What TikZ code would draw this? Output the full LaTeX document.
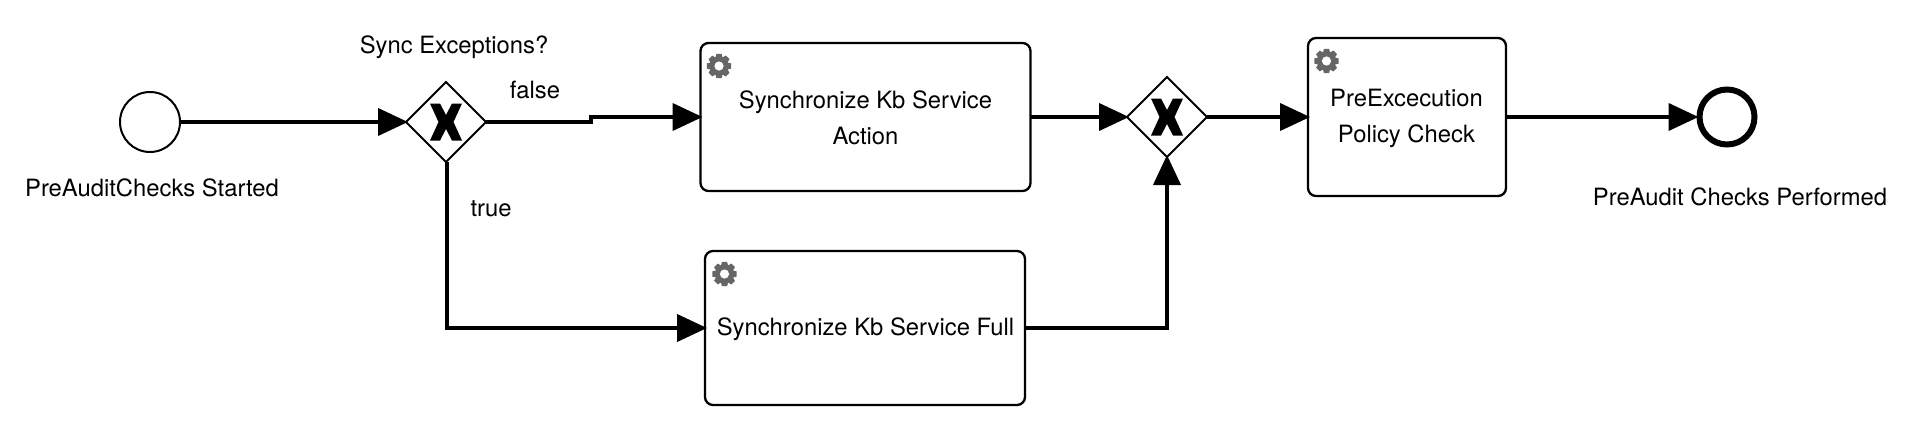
\documentclass[tikz,border=0pt]{standalone}
\usepackage{fontspec}
\setmainfont{TeX Gyre Heros}
\usetikzlibrary{arrows.meta,shapes.geometric}
\definecolor{geargrey}{HTML}{666666}
\tikzset{
  x=1pt,y=-1pt,
  lbl/.style={font=\fontsize{23.8}{36}\selectfont,align=center,inner sep=0pt,text=black},
  taskbox/.style={draw=black,line width=2.3pt,rounded corners=8pt,fill=white,inner sep=0pt,outer sep=0pt,align=center},
  gate/.style={diamond,draw=black,line width=2pt,fill=white,minimum width=80pt,minimum height=80pt,inner sep=0pt,outer sep=0pt,aspect=1},
  startev/.style={circle,draw=black,line width=2pt,minimum size=60pt,inner sep=0pt,outer sep=0pt},
  endev/.style={circle,draw=black,line width=6pt,minimum size=55pt,inner sep=0pt,outer sep=3pt},
  flow/.style={draw=black,line width=4pt,-{Triangle[length=30pt,width=27pt]},line join=miter,shorten >=-2pt},
  gearicon/.pic={
    \fill[geargrey] (0,0) circle[radius=9.5pt];
    \foreach \a in {0,45,...,315}{
      \fill[geargrey,rotate=\a] (-2.6,-12.2) -- (2.6,-12.2) -- (3.6,-8) -- (-3.6,-8) -- cycle;
    }
    \fill[white] (0,0) circle[radius=4.6pt];
  },
  xmark/.pic={
    \fill[black] (-16,-18.5) -- (-6,-18.5) -- (0,-7) -- (6,-18.5) -- (16,-18.5) -- (7.5,0) -- (16,18.5) -- (6,18.5) -- (0,7) -- (-6,18.5) -- (-16,18.5) -- (-7.5,0) -- cycle;
  }
}
\begin{document}
\begin{tikzpicture}
\useasboundingbox (0,0) rectangle (1913,426);
\node[startev] (start) at (150,122) {};
\node[gate] (g1) at (446,122) {};
\pic at (g1.center) {xmark};
\node[taskbox,minimum width=330pt,minimum height=148pt] (t1) at (865.5,117) {};
\node[lbl] (t1txt) at (865.5,118) {Synchronize Kb Service\\Action};
\pic at (719,66) {gearicon};
\node[taskbox,minimum width=320pt,minimum height=154pt] (t2) at (865,328) {};
\node[lbl] (t2txt) at (865.5,329) {Synchronize Kb Service Full};
\pic at (724.5,274) {gearicon};
\node[gate] (g2) at (1167,117) {};
\pic at (g2.center) {xmark};
\node[taskbox,minimum width=198pt,minimum height=158pt] (t3) at (1407,117) {};
\node[lbl] (t3txt) at (1406.5,118) {PreExcecution\\Policy Check};
\pic at (1326.5,61) {gearicon};
\node[endev] (end) at (1727,117) {};
\node[lbl] (l1) at (152,188) {PreAuditChecks Started};
\node[lbl] (l2) at (454,47.5) {Sync Exceptions?};
\node[lbl] (l3) at (535,90) {false};
\node[lbl] (l4) at (491,209) {true};
\node[lbl] (l5) at (1740,197) {PreAudit Checks Performed};
\coordinate (b1) at (591,122);
\coordinate (b2) at (591,117);
\coordinate (b3) at (447,328);
\coordinate (b4) at (1167,328);
\draw[flow] (start.east) -- (g1.west);
\draw[flow] (g1.east) -- (b1) -- (b2) -- (t1.west);
\draw[flow] (g1.south -| b3) -- (b3) -- (t2.west);
\draw[flow] (t1.east) -- (g2.west);
\draw[flow] (t2.east) -- (b4) -- (g2.south);
\draw[flow] (g2.east) -- (t3.west);
\draw[flow] (t3.east) -- (end.west);
\end{tikzpicture}
\end{document}
